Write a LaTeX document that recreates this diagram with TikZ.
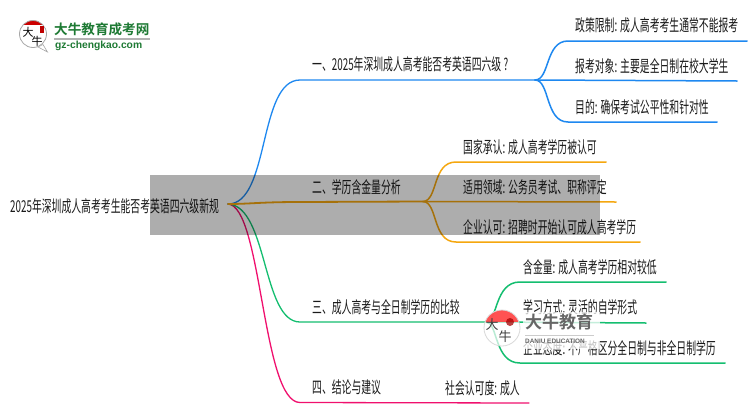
\documentclass[tikz,border=0pt]{standalone}
\usepackage{fontspec}
\setmainfont{Noto Sans CJK SC}[FakeStretch=0.6]
\newfontfamily\logofont{Noto Sans CJK SC}[BoldFont={* Bold}]
\newfontfamily\latinlogo{Liberation Sans}
\definecolor{cblue}{HTML}{1E88F0}
\definecolor{corange}{HTML}{F5A70F}
\definecolor{cgreen}{HTML}{14BE70}
\definecolor{cpink}{HTML}{F0106E}
\definecolor{ctext}{HTML}{1A1A1A}
\definecolor{logogreen}{HTML}{1E7A34}
\tikzset{
  lbl/.style={anchor=west,inner sep=0pt,text=ctext,font=\fontsize{16.4}{16.4}\selectfont},
  rootlbl/.style={lbl},
  conn/.style={line width=1.5pt,line cap=round},
  bluec/.style={conn,draw=cblue},
  orangec/.style={conn,draw=corange},
  greenc/.style={conn,draw=cgreen},
  pinkc/.style={conn,draw=cpink},
}
\begin{document}
\begin{tikzpicture}[x=1pt,y=-1pt]
\useasboundingbox (0,0) rectangle (750,410);
\fill[white] (0,0) rectangle (750,410);
% coordinates
\coordinate (o) at (228,204);
\coordinate (h1) at (535,80);
\coordinate (h2) at (423,201.5);
\coordinate (h3) at (486,322);
\coordinate (b1) at (300,80);
\coordinate (b2) at (300,202);
\coordinate (b3) at (300,322);
\coordinate (b4) at (300,402.5);
\coordinate (e11) at (747,41);
\coordinate (e12) at (737,81);
\coordinate (e13) at (717,122);
\coordinate (e21) at (606,162);
\coordinate (e22) at (616,202);
\coordinate (e23) at (640,242);
\coordinate (e31) at (666,282);
\coordinate (e32) at (646,323);
\coordinate (e33) at (725,363);
\coordinate (e41) at (529,403);
% connectors
\draw[pinkc,line width=1.3pt] (o) .. controls (262,206) and (262,402.5) .. (b4) -- (e41);
\draw[greenc,line width=1.3pt] (o) .. controls (268,206) and (262,322) .. (b3) -- (h3);
\draw[greenc] (h3) .. controls (498,322) and (494,282) .. (520,282) -- (e31);
\draw[greenc] (h3) -- (e32);
\draw[greenc] (h3) .. controls (498,322) and (494,363) .. (520,363) -- (e33);
\draw[bluec,line width=1.3pt] (o) .. controls (270,204) and (258,80) .. (b1) -- (h1);
\draw[bluec] (h1) .. controls (550,80) and (545,41) .. (568,41) -- (e11);
\draw[bluec] (h1) -- (e12);
\draw[bluec] (h1) .. controls (550,80) and (545,122) .. (568,122) -- (e13);
\draw[orangec,line width=1.8pt] (o) .. controls (250,204) and (260,202) .. (b2) -- (h2);
\draw[orangec] (h2) .. controls (438,201) and (432,162) .. (456,162) -- (e21);
\draw[orangec] (h2) -- (e22);
\draw[orangec] (h2) .. controls (438,202) and (432,242) .. (456,242) -- (e23);
% labels
\node[rootlbl] (root) at (10,206) {2025年深圳成人高考考生能否考英语四六级新规};
\node[lbl] (n1) at (312,64) {一、2025年深圳成人高考能否考英语四六级 ?};
\node[lbl] (n2) at (312,187) {二、学历含金量分析};
\node[lbl] (n3) at (312,307) {三、成人高考与全日制学历的比较};
\node[lbl] (n4) at (312,387) {四、结论与建议};
\node[lbl] (n11) at (575,25) {政策限制: 成人高考考生通常不能报考};
\node[lbl] (n12) at (575,66) {报考对象: 主要是全日制在校大学生};
\node[lbl] (n13) at (575,107) {目的: 确保考试公平性和针对性};
\node[lbl] (n21) at (463,147) {国家承认: 成人高考学历被认可};
\node[lbl] (n22) at (463,187) {适用领域: 公务员考试、职称评定};
\node[lbl] (n23) at (463,227) {企业认可: 招聘时开始认可成人高考学历};
\node[lbl] (n31) at (523,267) {含金量: 成人高考学历相对较低};
\node[lbl] (n32) at (523,307) {学习方式: 灵活的自学形式};
\node[lbl] (n33) at (523,348) {企业态度: 不严格区分全日制与非全日制学历};
\node[lbl] (n41) at (445,388) {社会认可度: 成人};
% grey band
\fill[black,opacity=0.32] (150,175) rectangle (600,235);
% top logo
\fill[white] (33,34) circle (13.5);
\begin{scope}
\clip (33,34) circle (13.5);
\fill[red!80!black] (18,18) rectangle (50,25);
\end{scope}
\draw[gray!70,line width=0.8pt] (33,34) circle (13.5);
\fill[white,draw=gray!70,line width=0.6pt] (38,47) -- (47.5,52) -- (43,44.5) -- cycle;
\node[inner sep=0pt,text=black] (logoa) at (28,32) {\logofont\fontsize{11}{11}\selectfont 大};
\node[inner sep=0pt,text=black] (logob) at (37,41) {\logofont\fontsize{11}{11}\selectfont 牛};
\fill[red!75!black] (40,26) rectangle (44,33);
\node[anchor=west,inner sep=0pt,text=logogreen] (logoc) at (54,29.5) {\logofont\bfseries\fontsize{13.6}{13.6}\selectfont 大牛教育成考网};
\fill[gray!60] (54,38) rectangle (150,39.5);
\node[anchor=west,inner sep=0pt,text=logogreen] (logod) at (55,45.5) {\latinlogo\bfseries\fontsize{10.3}{10.3}\selectfont gz-chengkao.com};
% watermark
\fill[white,opacity=0.75] (523,312) rectangle (600,349);
\fill[white,opacity=0.7] (502,328) circle (18);
\begin{scope}
\clip (502,328) circle (18);
\fill[red!75!white,opacity=0.9] (480,305) rectangle (525,322);
\end{scope}
\draw[gray!30,line width=0.8pt] (502,328) circle (18);
\fill[red!65!black,opacity=0.75] (510,322) circle (4);
\node[inner sep=0pt,text=black!75] (wma) at (492,325) {\logofont\fontsize{13}{13}\selectfont 大};
\node[inner sep=0pt,text=black!75] (wmb) at (505,337) {\logofont\fontsize{13}{13}\selectfont 牛};
\node[anchor=west,inner sep=0pt,text=black!60] (wmc) at (525,322) {\logofont\bfseries\fontsize{17}{17}\selectfont 大牛教育};
\fill[gray!40] (525,335) rectangle (594,336);
\node[anchor=west,inner sep=0pt,text=black!60] (wmd) at (525,341) {\latinlogo\bfseries\fontsize{6.4}{6.4}\selectfont DANIU EDUCATION};
\end{tikzpicture}
\end{document}
